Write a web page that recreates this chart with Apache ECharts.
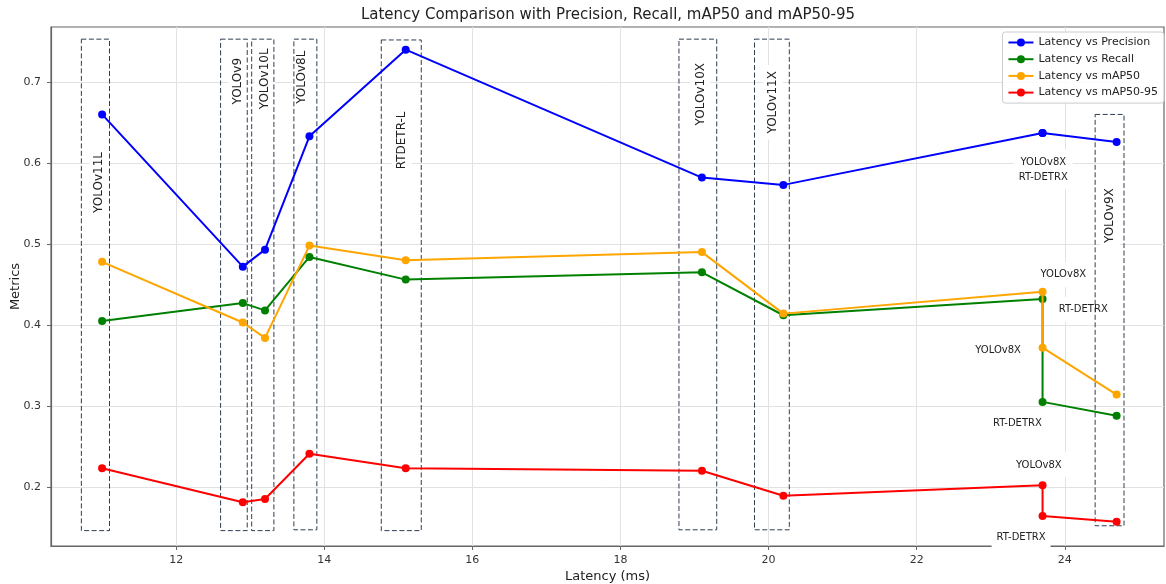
<!DOCTYPE html>
<html>
<head>
<meta charset="utf-8">
<script src="https://cdn.jsdelivr.net/npm/echarts@6/dist/echarts.min.js"></script>
<style>
html,body{margin:0;padding:0;background:#ffffff;}
#chart{width:1166px;height:584px;}
</style>
</head>
<body>
<div id="chart"></div>
<script>
// ---- data ----
const models    = ['YOLOv11L','YOLOv9','YOLOv10L','YOLOv8L','RTDETR-L','YOLOv10X','YOLOv11X','YOLOv8X','RT-DETRX','YOLOv9X'];
const latency   = [11.0, 12.9, 13.2, 13.8, 15.1, 19.1, 20.2, 23.7, 23.7, 24.7];
const precision = [0.660, 0.472, 0.493, 0.633, 0.740, 0.582, 0.573, 0.637, 0.637, 0.626];
const recall    = [0.405, 0.427, 0.418, 0.484, 0.456, 0.465, 0.412, 0.432, 0.305, 0.288];
const map50     = [0.478, 0.403, 0.384, 0.498, 0.480, 0.490, 0.414, 0.441, 0.372, 0.314];
const map5095   = [0.223, 0.181, 0.185, 0.241, 0.223, 0.220, 0.189, 0.202, 0.164, 0.157];

const seriesNames = ['Latency vs Precision','Latency vs Recall','Latency vs mAP50','Latency vs mAP50-95'];

const xTicks = [12, 14, 16, 18, 20, 22, 24];
const yTicks = [0.2, 0.3, 0.4, 0.5, 0.6, 0.7];

// dashed annotation boxes (data units)
const boxLabels = ['YOLOv11L','YOLOv9','YOLOv10L','YOLOv8L','RTDETR-L','YOLOv10X','YOLOv11X','YOLOv9X'];
const boxX0 = [10.72, 12.60, 13.02, 13.59, 14.77, 18.79, 19.81, 24.41];
const boxX1 = [11.10, 12.96, 13.32, 13.90, 15.31, 19.30, 20.28, 24.80];
const boxY0 = [0.146, 0.146, 0.146, 0.147, 0.146, 0.147, 0.147, 0.152];
const boxY1 = [0.753, 0.753, 0.753, 0.753, 0.752, 0.753, 0.753, 0.660];
const boxLabelX = [10.96, 12.84, 13.20, 13.70, 15.05, 19.08, 20.06, 24.61];
const boxLabelY = [0.576, 0.701, 0.704, 0.706, 0.628, 0.685, 0.675, 0.535];

// point notes (data units)
const noteTexts = ['YOLOv8X\nRT-DETRX','YOLOv8X','RT-DETRX','YOLOv8X','RT-DETRX','YOLOv8X','RT-DETRX'];
const noteX = [23.71, 23.98, 24.25, 23.10, 23.36, 23.65, 23.41];
const noteY = [0.592, 0.462, 0.419, 0.368, 0.279, 0.227, 0.138];

// ---- styles ----
const FONT = '"DejaVu Sans", sans-serif';
const colors = ['#0000ff', '#008000', '#ffa500', '#ff0000'];
const metricArrays = [precision, recall, map50, map5095];

const lineSeries = metricArrays.map((arr, k) => ({
  type: 'line',
  name: seriesNames[k],
  data: latency.map((x, i) => [x, arr[i]]),
  symbol: 'circle',
  symbolSize: 8,
  showSymbol: true,
  lineStyle: { color: colors[k], width: 2 },
  itemStyle: { color: colors[k] },
  z: 10 + k,
  animation: false
}));

const chart = echarts.init(document.getElementById('chart'), null, { renderer: 'canvas' });

const option = {
  backgroundColor: '#ffffff',
  animation: false,
  graphic: [{
    type: 'text',
    x: 608, y: 15,
    style: {
      text: 'Latency Comparison with Precision, Recall, mAP50 and mAP50-95',
      font: '15px ' + FONT, fill: '#222', align: 'center', verticalAlign: 'middle'
    }
  }],
  grid: {
    left: 51, right: 2, top: 27, bottom: 38,
    show: true, borderColor: '#666', borderWidth: 1.2, backgroundColor: 'transparent',
    containLabel: false, outerBoundsMode: 'none'
  },
  legend: {
    data: seriesNames,
    orient: 'vertical',
    right: 2, top: 32,
    padding: [5, 6, 5, 5],
    itemWidth: 25, itemHeight: 10, itemGap: 5.7,
    backgroundColor: 'rgba(255,255,255,0.85)',
    borderColor: '#cccccc', borderWidth: 1, borderRadius: 3,
    textStyle: { fontFamily: FONT, fontSize: 11, color: '#222' }
  },
  xAxis: {
    type: 'value', min: 10.31, max: 25.34,
    name: 'Latency (ms)', nameLocation: 'middle', nameGap: 24, nameMoveOverlap: false,
    nameTextStyle: { fontFamily: FONT, fontSize: 13, color: '#222' },
    axisLine: { show: true, lineStyle: { color: '#666', width: 1.2 } },
    axisTick: { show: true, inside: false, length: 4, customValues: xTicks, lineStyle: { color: '#666' } },
    axisLabel: { show: true, customValues: xTicks, margin: 9, fontFamily: FONT, fontSize: 11, color: '#333',
      formatter: v => String(v) },
    splitLine: { show: true, lineStyle: { color: '#e2e2e2', width: 1 } }
  },
  yAxis: {
    type: 'value', min: 0.127, max: 0.768,
    name: 'Metrics', nameLocation: 'middle', nameGap: 29, nameRotate: 90, nameMoveOverlap: false,
    nameTextStyle: { fontFamily: FONT, fontSize: 13, color: '#222' },
    axisLine: { show: true, lineStyle: { color: '#666', width: 1.2 } },
    axisTick: { show: true, inside: false, length: 4, customValues: yTicks, lineStyle: { color: '#666' } },
    axisLabel: { show: true, customValues: yTicks, margin: 10, fontFamily: FONT, fontSize: 11, color: '#333',
      formatter: v => v.toFixed(1) },
    splitLine: { show: true, lineStyle: { color: '#e2e2e2', width: 1 } }
  },
  series: [
    {
      type: 'custom', name: 'boxLabels', silent: true, z: 2, clip: false,
      data: boxLabelX.map((x, i) => [x, boxLabelY[i]]),
      encode: { x: 0, y: 1 },
      renderItem: (params, api) => {
        const p = api.coord([api.value(0), api.value(1)]);
        return {
          type: 'text', x: p[0], y: p[1], rotation: Math.PI / 2,
          style: {
            text: boxLabels[params.dataIndex],
            font: '12px ' + FONT, fill: '#222',
            align: 'center', verticalAlign: 'middle',
            backgroundColor: '#ffffff', padding: [4, 6]
          }
        };
      }
    },
    {
      type: 'custom', name: 'boxes', silent: true, z: 3, clip: false,
      data: boxX0.map((x, i) => [boxX0[i], boxY0[i], boxX1[i], boxY1[i]]),
      encode: { x: [0, 2], y: [1, 3] },
      renderItem: (params, api) => {
        const a = api.coord([api.value(0), api.value(3)]);
        const b = api.coord([api.value(2), api.value(1)]);
        return {
          type: 'rect',
          shape: { x: a[0], y: a[1], width: b[0] - a[0], height: b[1] - a[1] },
          style: { fill: 'transparent', stroke: '#2c3e50', lineWidth: 1, lineDash: [5, 2.5] }
        };
      }
    },
    {
      type: 'custom', name: 'notes', silent: true, z: 2, clip: false,
      data: noteX.map((x, i) => [x, noteY[i]]),
      encode: { x: 0, y: 1 },
      renderItem: (params, api) => {
        const p = api.coord([api.value(0), api.value(1)]);
        return {
          type: 'text', x: p[0], y: p[1],
          style: {
            text: noteTexts[params.dataIndex],
            font: '10px ' + FONT, fill: '#222', lineHeight: 15,
            align: 'center', verticalAlign: 'middle',
            backgroundColor: '#ffffff', padding: [5, 5]
          }
        };
      }
    },
    ...lineSeries
  ]
};

chart.setOption(option);
</script>
</body>
</html>
